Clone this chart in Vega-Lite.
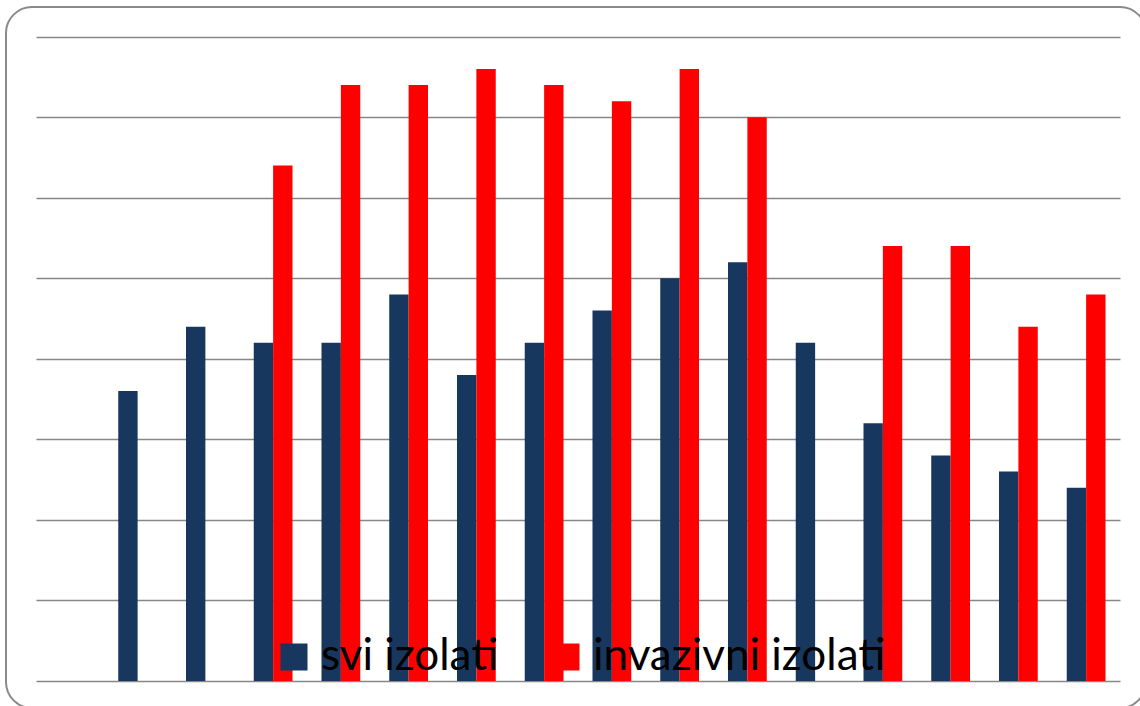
{
  "$schema": "https://vega.github.io/schema/vega-lite/v6.json",
  "width": 1140,
  "height": 701,
  "autosize": {"type": "none"},
  "padding": {"left": 6, "top": 7, "right": -6, "bottom": -2},
  "background": "white",
  "config": {
    "view": {"stroke": "#8a8a8a", "strokeWidth": 2, "cornerRadius": 26},
    "font": "Lato"
  },
  "data": {
    "values": [
      {"kat": "2", "serija": "svi izolati", "v": 3.6},
      {"kat": "3", "serija": "svi izolati", "v": 4.4},
      {"kat": "4", "serija": "svi izolati", "v": 4.2},
      {"kat": "4", "serija": "invazivni izolati", "v": 6.4},
      {"kat": "5", "serija": "svi izolati", "v": 4.2},
      {"kat": "5", "serija": "invazivni izolati", "v": 7.4},
      {"kat": "6", "serija": "svi izolati", "v": 4.8},
      {"kat": "6", "serija": "invazivni izolati", "v": 7.4},
      {"kat": "7", "serija": "svi izolati", "v": 3.8},
      {"kat": "7", "serija": "invazivni izolati", "v": 7.6},
      {"kat": "8", "serija": "svi izolati", "v": 4.2},
      {"kat": "8", "serija": "invazivni izolati", "v": 7.4},
      {"kat": "9", "serija": "svi izolati", "v": 4.6},
      {"kat": "9", "serija": "invazivni izolati", "v": 7.2},
      {"kat": "10", "serija": "svi izolati", "v": 5.0},
      {"kat": "10", "serija": "invazivni izolati", "v": 7.6},
      {"kat": "11", "serija": "svi izolati", "v": 5.2},
      {"kat": "11", "serija": "invazivni izolati", "v": 7.0},
      {"kat": "12", "serija": "svi izolati", "v": 4.2},
      {"kat": "13", "serija": "svi izolati", "v": 3.2},
      {"kat": "13", "serija": "invazivni izolati", "v": 5.4},
      {"kat": "14", "serija": "svi izolati", "v": 2.8},
      {"kat": "14", "serija": "invazivni izolati", "v": 5.4},
      {"kat": "15", "serija": "svi izolati", "v": 2.6},
      {"kat": "15", "serija": "invazivni izolati", "v": 4.4},
      {"kat": "16", "serija": "svi izolati", "v": 2.4},
      {"kat": "16", "serija": "invazivni izolati", "v": 4.8}
    ]
  },
  "mark": {"type": "bar"},
  "encoding": {
    "x": {
      "field": "kat",
      "type": "nominal",
      "scale": {
        "domain": ["1","2","3","4","5","6","7","8","9","10","11","12","13","14","15","16"],
        "range": [30, 1114],
        "paddingInner": 0.428,
        "paddingOuter": 0.214
      },
      "axis": null
    },
    "xOffset": {
      "field": "serija",
      "type": "nominal",
      "scale": {"domain": ["svi izolati", "invazivni izolati"], "paddingInner": 0, "paddingOuter": 0}
    },
    "y": {
      "field": "v",
      "type": "quantitative",
      "scale": {"domain": [0, 8], "range": [674, 29.7], "nice": false, "zero": true},
      "axis": {
        "values": [0, 1, 2, 3, 4, 5, 6, 7, 8],
        "grid": true,
        "gridColor": "#878787",
        "gridWidth": 1.6,
        "gridOpacity": 1,
        "labels": false,
        "ticks": false,
        "domain": false,
        "title": null
      }
    },
    "color": {
      "field": "serija",
      "type": "nominal",
      "scale": {"domain": ["svi izolati", "invazivni izolati"], "range": ["#17375E", "#FF0000"]},
      "legend": {
        "orient": "none",
        "direction": "horizontal",
        "legendX": 266,
        "legendY": 628,
        "title": null,
        "symbolType": "square",
        "symbolSize": 729,
        "symbolStrokeWidth": 0,
        "symbolOpacity": 1,
        "labelFont": "Lato",
        "labelFontSize": 44,
        "labelColor": "#000000",
        "labelOffset": 5,
        "columnPadding": 45,
        "padding": 0,
        "labelLimit": 0
      }
    }
  }
}
